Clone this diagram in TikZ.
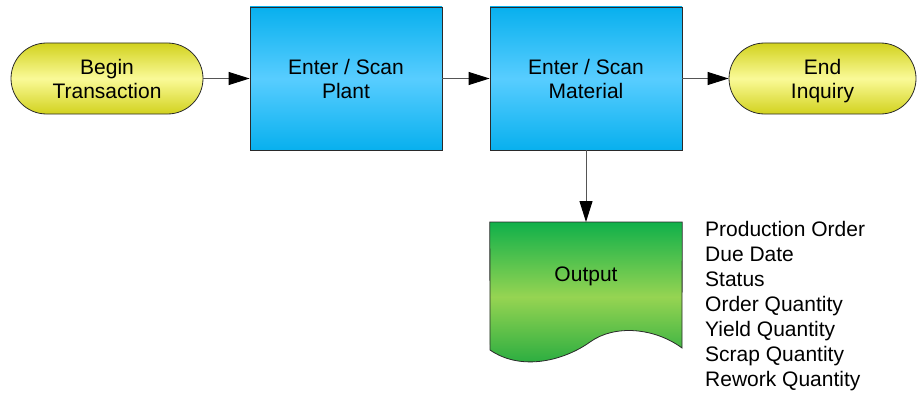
\documentclass[tikz,border=0pt]{standalone}
\usepackage{fontspec}
\setmainfont{Liberation Sans}
\usetikzlibrary{arrows.meta}
\definecolor{yedge}{HTML}{D2D21E}
\definecolor{ymid}{HTML}{FAFA98}
\definecolor{bedge}{HTML}{08B0EE}
\definecolor{bmid}{HTML}{58CDFF}
\definecolor{gtop}{HTML}{10B04A}
\definecolor{gmid}{HTML}{96D452}
\definecolor{gbot}{HTML}{1CA83E}
\definecolor{linegray}{HTML}{555555}
\definecolor{bordergray}{HTML}{2A2A2A}
\tikzset{
  lbl/.style={font=\fontsize{21}{24}\selectfont, align=center, text=black},
  terminal/.style={lbl, draw=bordergray, line width=0.8pt, rounded corners=35.5pt,
    minimum width=192pt, minimum height=71pt, inner sep=0pt,
    top color=yedge, bottom color=yedge, middle color=ymid},
  procbox/.style={lbl, draw=bordergray, line width=0.8pt,
    minimum width=192pt, minimum height=143pt, inner sep=0pt,
    top color=bedge, bottom color=bedge, middle color=bmid},
  conn/.style={draw=linegray, line width=1pt, -{Triangle[length=21pt,width=13pt,color=black]}},
}
\begin{document}
\begin{tikzpicture}[x=1pt,y=-1pt]
\useasboundingbox (0,0) rectangle (917,396);
\node[terminal] (begin) at (107,78.5) {Begin\\Transaction};
\node[procbox] (plant) at (346,78.5) {Enter / Scan\\Plant};
\node[procbox] (mat) at (586,78.5) {Enter / Scan\\Material};
\node[terminal, minimum width=187pt] (end) at (822.5,78.5) {End\\\raisebox{0pt}[\height][0pt]{Inquiry}};
% output document shape
\node[minimum width=192pt, minimum height=128pt, inner sep=0pt, anchor=north] (out) at (586,222) {};
\shade[draw=bordergray, line width=0.8pt, top color=gtop, bottom color=gbot, middle color=gmid]
  (out.north west) -- (out.north east) -- (682,348)
  .. controls (655,328) and (615,324) .. (590,342)
  .. controls (565,360) and (522,372) .. (490,350) -- cycle;
\node[lbl] (outlbl) at (586,276.5) {Output};
\node[font=\fontsize{21}{25}\selectfont, align=left, inner sep=0pt, anchor=north west] (list) at (705,221.5)
  {Production Order\\Due Date\\Status\\Order Quantity\\Yield Quantity\\Scrap Quantity\\Rework Quantity};
\draw[conn] (begin) -- (plant);
\draw[conn] (plant) -- (mat);
\draw[conn] (mat) -- (end);
\draw[conn] (mat) -- (out.north);
\end{tikzpicture}
\end{document}
